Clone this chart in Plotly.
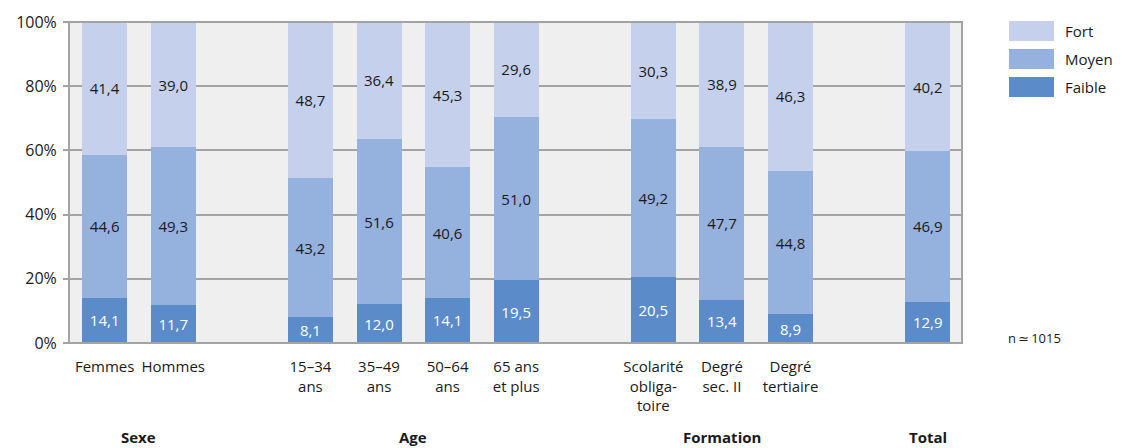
import plotly.graph_objects as go

# Category slots (gaps separate the groups)
categories = ["Femmes", "Hommes", "15–34<br>ans", "35–49<br>ans", "50–64<br>ans",
              "65 ans<br>et plus", "Scolarité<br>obliga-<br>toire", "Degré<br>sec. II",
              "Degré<br>tertiaire", ""]
slots = [0, 1, 3, 4, 5, 6, 8, 9, 10, 12]

faible = [14.1, 11.7, 8.1, 12.0, 14.1, 19.5, 20.5, 13.4, 8.9, 12.9]
moyen = [44.6, 49.3, 43.2, 51.6, 40.6, 51.0, 49.2, 47.7, 44.8, 46.9]
fort = [41.4, 39.0, 48.7, 36.4, 45.3, 29.6, 30.3, 38.9, 46.3, 40.2]

groups = ["Sexe", "Age", "Formation", "Total"]
group_pos = [0.5, 4.5, 9, 12]

y_ticks = [0, 20, 40, 60, 80, 100]

series = [
    ("Faible", faible, "#5b8bc8", "white"),
    ("Moyen", moyen, "#95b1dd", "#1a1a1a"),
    ("Fort", fort, "#c5d0ed", "#1a1a1a"),
]

FONT = "Open Sans, Noto Sans, DejaVu Sans, sans-serif"

fig = go.Figure()
for name, vals, color, tcolor in series:
    fig.add_trace(go.Bar(
        x=slots, y=vals, name=name, width=0.656,
        marker=dict(color=color, line=dict(width=0)),
        text=[f"{v:.1f}".replace(".", ",") for v in vals],
        textposition="inside", insidetextanchor="middle", textangle=0,
        constraintext="none",
        textfont=dict(family=FONT, size=15, color=tcolor),
        showlegend=False,
    ))

# Plot-area geometry in pixels
W, H = 1122, 448
L, R, T, B = 69, 962, 22, 343
pw, ph = R - L, B - T

def px_x(px):
    return (px - L) / pw

def px_y(py):
    return (B - py) / ph

shapes = []
annotations = []

# Legend: swatches and labels on the right
legend_items = [("Fort", "#c5d0ed", 21), ("Moyen", "#95b1dd", 49), ("Faible", "#5b8bc8", 77)]
for label, color, top in legend_items:
    shapes.append(dict(type="rect", xref="paper", yref="paper",
                       x0=px_x(1009), x1=px_x(1054), y0=px_y(top + 20), y1=px_y(top),
                       fillcolor=color, line=dict(width=0)))
    annotations.append(dict(xref="paper", yref="paper", x=px_x(1063), y=px_y(top + 10),
                            text=label, showarrow=False, xanchor="left", yanchor="middle",
                            font=dict(family=FONT, size=15, color="#1a1a1a")))

# Plot frame
shapes.append(dict(type="rect", xref="paper", yref="paper", x0=0, x1=1, y0=0, y1=1,
                   line=dict(color="#a3a3a3", width=2), fillcolor="rgba(0,0,0,0)",
                   layer="above"))

annotations.append(dict(xref="paper", yref="paper", x=px_x(1006), y=px_y(338),
                        text="n\u2009\u2243\u20091015", showarrow=False, xanchor="left",
                        yanchor="middle", font=dict(family=FONT, size=13, color="#1a1a1a")))

for g, pos in zip(groups, group_pos):
    annotations.append(dict(xref="x", yref="paper", x=pos, y=px_y(437), text=f"<b>{g}</b>",
                            showarrow=False, xanchor="center", yanchor="middle",
                            font=dict(family=FONT, size=15, color="#1a1a1a")))

fig.update_layout(
    barmode="stack",
    width=W, height=H,
    margin=dict(l=L, r=W - R, t=T, b=H - B, pad=0),
    paper_bgcolor="white",
    plot_bgcolor="#efefef",
    font=dict(family=FONT, size=15, color="#1a1a1a"),
    shapes=shapes,
    annotations=annotations,
    xaxis=dict(range=[-0.52, 12.5], tickvals=slots, ticktext=categories,
               showgrid=False, zeroline=False, ticks="outside", ticklen=10,
               tickcolor="rgba(0,0,0,0)", showline=False,
               tickfont=dict(family=FONT, size=15, color="#1a1a1a"), fixedrange=True),
    yaxis=dict(range=[0, 100], tickvals=y_ticks, ticktext=[f"{v}%" for v in y_ticks],
               showgrid=True, gridcolor="#a3a3a3", gridwidth=1.5, zeroline=False,
               ticks="outside", ticklen=5, tickcolor="#a3a3a3", tickwidth=1.5,
               ticklabelstandoff=3, showline=False,
               tickfont=dict(family=FONT, size=16, color="#1a1a1a"), fixedrange=True),
    uniformtext=dict(mode=False),
)

fig.write_html("out.html")
